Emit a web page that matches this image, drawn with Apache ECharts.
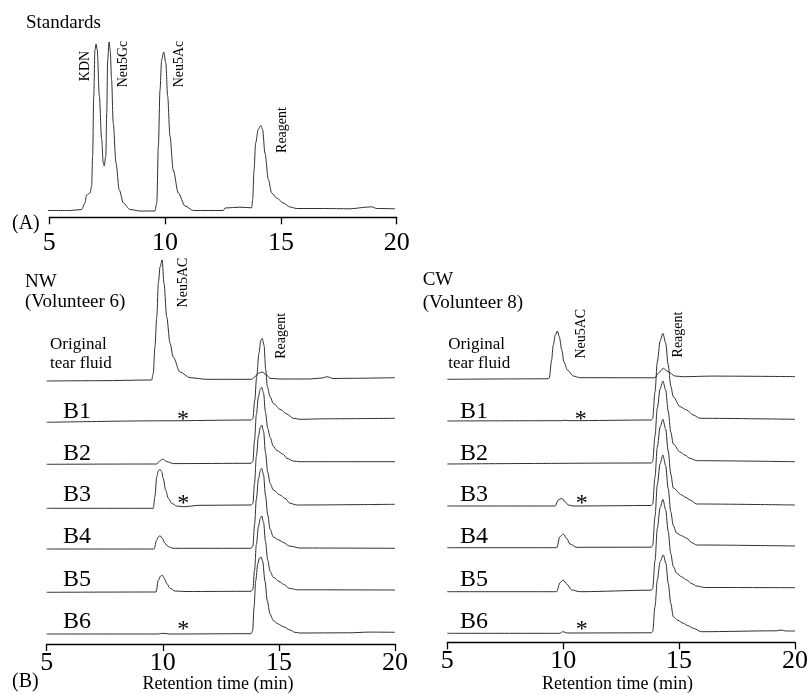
<!DOCTYPE html>
<html><head><meta charset="utf-8">
<script src="https://cdn.jsdelivr.net/npm/echarts@6/dist/echarts.min.js"></script>
<style>html,body{margin:0;padding:0;background:#fff}#c{width:811px;height:695px}</style>
</head><body><div id="c"></div>
<script>
// ---------- data (retention time in min, detector response in arbitrary units) ----------
const xTicks = [5, 10, 15, 20];
const traceNames = ['Original tear fluid', 'B1', 'B2', 'B3', 'B4', 'B5', 'B6'];

const standards = [[4.75,0.5],[5.9,0.5],[6.4,1.5],[6.54,8],[6.61,16],[6.76,18],[6.83,25],[6.87,55],[6.92,115],[6.97,161],[7.02,167],[7.07,161],[7.16,115],[7.26,72],[7.33,48],[7.37,45],[7.44,55],[7.48,98],[7.52,151],[7.58,169],[7.63,161],[7.69,131],[7.76,88],[7.88,48],[8.02,21],[8.2,8],[8.48,1.5],[8.92,0],[9.56,0],[9.64,8],[9.71,65],[9.78,121],[9.85,151],[9.94,159],[10.03,148],[10.11,115],[10.21,75],[10.35,41],[10.57,18],[10.86,5],[11.22,0.5],[12.51,0.5],[12.59,3],[13.23,3.8],[13.74,3.2],[13.78,11.5],[13.84,41],[13.91,68],[14.02,81.5],[14.13,85.5],[14.21,81.5],[14.31,58],[14.46,31.5],[14.6,18],[14.82,13],[15.1,8],[15.39,4],[15.68,2.5],[16.83,2.5],[17.98,2.2],[18.7,3.8],[18.92,4.2],[19.14,2.5],[19.93,2.2]];

const nwOriginal = [[5,0],[7.3,0.3],[9.52,1],[9.59,7.7],[9.66,34],[9.74,64],[9.81,98],[9.88,114],[9.97,121],[10.05,98],[10.17,64],[10.31,38],[10.45,24],[10.74,9],[11.17,3.3],[11.89,1.7],[13.83,1.7],[13.97,4.3],[14.11,7.7],[14.28,9],[14.44,6.5],[14.62,2.7],[15.05,2],[16.34,2],[16.86,3],[17.08,4.3],[17.33,2.5],[18.06,2.7],[20,3.3]];
const nwB1 = [[5,0],[10,1.5],[13.8,2.3],[13.88,4],[13.96,22],[14.04,45],[14.14,69],[14.22,82],[14.28,84],[14.36,77],[14.43,53],[14.5,36],[14.62,25.6],[14.76,19],[15.05,13],[15.34,8.3],[15.62,4],[15.91,3],[17,3.5],[20,4]];
const nwB2 = [[5,0],[9.74,0.3],[9.85,3],[10.0,5.3],[10.17,2.7],[10.45,0.7],[13.8,1],[13.88,3],[13.95,24],[14.03,50],[14.12,68],[14.2,75],[14.26,77],[14.34,71],[14.42,52],[14.52,36],[14.62,27],[14.76,18],[14.9,14],[15.19,10],[15.34,6],[15.62,3.3],[15.9,2.6],[20,2.6]];
const nwB3 = [[5,0],[9.59,0],[9.66,11.6],[9.74,31.6],[9.81,37.6],[9.88,39],[9.95,36.6],[10.02,30],[10.12,18.3],[10.24,10],[10.38,5],[10.6,2.3],[10.88,1.6],[11.6,3],[13.8,3.3],[13.88,5],[13.95,25],[14.03,52],[14.12,72],[14.2,81],[14.26,83.3],[14.34,77],[14.42,56],[14.52,36],[14.62,25],[14.76,18.3],[15.05,13.3],[15.26,10],[15.48,5],[15.77,3.3],[20,4]];
const nwB4 = [[5,0],[9.62,0],[9.74,9],[9.81,12.3],[9.88,13.3],[9.98,10.7],[10.09,5.7],[10.24,2.3],[10.45,0.7],[13.8,0.7],[13.88,3],[13.95,24],[14.03,50],[14.12,70],[14.2,78.5],[14.26,80.7],[14.34,74],[14.42,54],[14.52,34],[14.62,20],[14.76,12],[15.0,9],[15.19,6.5],[15.45,3],[15.91,1],[20,0.7]];
const nwB5 = [[5,0],[9.71,0.3],[9.81,12.3],[9.91,16.3],[9.98,17.3],[10.06,14],[10.17,9],[10.31,4],[10.53,1.3],[11,0.8],[13.8,1],[13.88,3],[13.95,22],[14.03,48],[14.12,66],[14.2,74],[14.26,76.3],[14.34,70],[14.42,51],[14.52,32],[14.62,21],[14.76,15],[15.0,11],[15.2,8],[15.45,4],[15.8,2.5],[20,2.3]];
const nwB6 = [[5,0],[9.8,0],[10.0,0.7],[10.3,0],[13.8,0.3],[13.87,3.3],[13.93,26.7],[14.0,53],[14.09,70],[14.16,76],[14.23,77],[14.3,73],[14.4,53],[14.5,33],[14.62,20],[14.76,13.3],[14.97,10],[15.19,7.3],[15.48,4],[15.69,1.7],[15.91,1],[18,1.2],[18.9,1.9],[20,1.7]];

const cwOriginal = [[5,0],[9.3,0.5],[9.4,1.3],[9.5,19.3],[9.57,34.3],[9.66,44.3],[9.75,48.3],[9.83,42.6],[9.94,29.3],[10.03,17.6],[10.18,9.3],[10.44,3.3],[10.72,1.6],[13.96,1.5],[14.1,6],[14.32,11],[14.53,7.6],[14.82,3.3],[15.18,2.6],[16.4,3.2],[20,2.7]];
const cwB1 = [[5,0],[9.9,0.3],[10.08,0.8],[10.25,0.3],[13.8,1],[13.86,2.5],[13.96,29],[14.06,59],[14.18,80],[14.3,87.7],[14.42,78],[14.53,56],[14.64,35],[14.75,24.3],[15.04,14.3],[15.33,11],[15.61,6],[15.9,2.7],[20,1.7]];
const cwB2 = [[5,0],[13.8,1],[13.86,2.5],[13.96,28],[14.06,56],[14.18,75],[14.3,83],[14.42,74],[14.53,53],[14.64,32],[14.75,20],[15.04,12],[15.25,9],[15.47,5.7],[15.76,3.3],[20,2.3]];
const cwB3 = [[5,0],[9.65,0],[9.79,6],[9.94,7.7],[10.08,4.3],[10.22,1],[10.44,0],[13.8,0.5],[13.86,2],[13.96,29],[14.06,59],[14.18,79],[14.3,86.7],[14.42,77],[14.53,55],[14.64,32],[14.75,18],[15.11,11],[15.3,8.5],[15.47,6],[15.76,2],[20,1]];
const cwB4 = [[5,0],[9.72,0],[9.86,11],[10.0,13.7],[10.15,9.4],[10.29,3.7],[10.58,0.4],[13.8,0.5],[13.86,2.5],[13.96,31],[14.06,63],[14.18,84],[14.3,92.7],[14.42,82],[14.53,59],[14.64,36],[14.75,22],[14.9,14.4],[15.1,12],[15.33,9.4],[15.55,5],[15.76,2.7],[20,1.7]];
const cwB5 = [[5,0],[9.72,0],[9.86,9],[10.0,11.7],[10.15,7.7],[10.37,1.7],[10.72,0],[13.8,1.5],[13.86,3],[13.96,31],[14.06,63],[14.18,84],[14.3,92.4],[14.42,82],[14.53,60],[14.64,38],[14.75,25],[14.9,18.4],[15.1,15],[15.33,11.7],[15.55,8],[15.76,5.7],[16.1,4.2],[20,4]];
const cwB6 = [[5,0],[9.85,0],[10.0,1.7],[10.15,0.3],[13.8,0.5],[13.86,1.6],[13.96,26.6],[14.06,53.3],[14.18,71.6],[14.32,78.3],[14.43,70],[14.53,50],[14.64,30],[14.75,16.6],[14.95,13],[15.18,10],[15.4,7.5],[15.61,5],[15.97,1.6],[19.2,2.5],[19.4,3.3],[19.6,2.3],[20,2.3]];

const nwTraces = [nwOriginal, nwB1, nwB2, nwB3, nwB4, nwB5, nwB6];
const cwTraces = [cwOriginal, cwB1, cwB2, cwB3, cwB4, cwB5, cwB6];

// ---------- layout ----------
const SERIF = '"Liberation Serif", "Times New Roman", serif';
const nwOffsets = [263, 221.7, 179.7, 135.7, 95, 51.7, 10];
const cwOffsets = [263, 221.3, 178.3, 136.3, 94.6, 50.6, 9];
const LINE = '#303030';

const chart = echarts.init(document.getElementById('c'), null, {renderer: 'canvas'});

function xAxisCfg(gridIndex, margin) {
  return {
    type: 'value', gridIndex, min: 5, max: 20, interval: 5,
    axisLine: {show: true, lineStyle: {color: '#000', width: 1.3}},
    axisTick: {show: true, length: 7, lineStyle: {color: '#000', width: 1.3}},
    splitLine: {show: false},
    axisLabel: {show: true, color: '#000', fontFamily: SERIF, fontSize: 26, margin,
      formatter: v => xTicks.includes(v) ? String(v) : ''}
  };
}
function yAxisCfg(gridIndex, max) {
  return {type: 'value', gridIndex, min: 0, max, show: false, splitLine: {show: false}};
}
function lineSeries(data, xi, off) {
  return {
    type: 'line', xAxisIndex: xi, yAxisIndex: xi, clip: false, silent: true,
    showSymbol: false, symbol: 'none', smooth: 0.3, smoothMonotone: 'x', animation: false,
    lineStyle: {color: LINE, width: 1},
    data: data.map(p => [p[0], p[1] + off])
  };
}

const series = [lineSeries(standards, 0, 6.3)];
nwTraces.forEach((d, i) => series.push(lineSeries(d, 1, nwOffsets[i])));
cwTraces.forEach((d, i) => series.push(lineSeries(d, 2, cwOffsets[i])));

function txt(text, x, y, size, opts) {
  opts = opts || {};
  return {
    type: 'text', x, y, rotation: opts.rot || 0, silent: true, z: 10,
    style: {text, font: (opts.weight || 'normal') + ' ' + size + 'px ' + SERIF, fill: '#000',
      align: opts.align || 'left', verticalAlign: opts.va || 'middle'}
  };
}
const R = Math.PI / 2;
const graphics = [
  txt('Standards', 26, 23.5, 19),
  txt('(A)', 12, 224, 20),
  txt('KDN', 85, 66, 14, {rot: R, align: 'center'}),
  txt('Neu5Gc', 123.5, 64, 14, {rot: R, align: 'center'}),
  txt('Neu5Ac', 179.5, 64, 14, {rot: R, align: 'center'}),
  txt('Reagent', 282.5, 130, 14, {rot: R, align: 'center'}),
  // NW
  txt('NW', 25, 281.7, 19),
  txt('(Volunteer 6)', 25, 302.3, 19),
  txt('Original', 50, 344.3, 17),
  txt('tear fluid', 50, 363.3, 17),
  txt('Neu5AC', 183.8, 282.5, 14, {rot: R, align: 'center'}),
  txt('Reagent', 281.7, 335.8, 14, {rot: R, align: 'center'}),
  // CW
  txt('CW', 422.7, 280, 19),
  txt('(Volunteer 8)', 422.7, 303.3, 19),
  txt('Original', 448.3, 344.3, 17),
  txt('tear fluid', 448.3, 363.3, 17),
  txt('Neu5AC', 581.7, 333.7, 14, {rot: R, align: 'center'}),
  txt('Reagent', 678.7, 334.5, 14, {rot: R, align: 'center'}),
  txt('(B)', 12, 682, 20),
  txt('Retention time (min)', 218, 684, 18, {align: 'center'}),
  txt('Retention time (min)', 617.5, 684, 18, {align: 'center'})
];
const bY = [411.7, 453.3, 495, 536.7, 579.3, 621.7];
bY.forEach((y, i) => {
  graphics.push(txt(traceNames[i + 1], 63, y, 24));
  graphics.push(txt(traceNames[i + 1], 460, y, 24));
});
[[182.9, 413.3], [183.3, 497.3], [183.3, 624], [580.7, 413.3], [581.7, 497.3], [581.7, 624]].forEach(p => {
  graphics.push(txt('*', p[0], p[1] + 6, 24, {align: 'center'}));
});

chart.setOption({
  animation: false,
  backgroundColor: '#fff',
  grid: [
    {left: 49.3, top: 30, width: 347.4, height: 187.3},
    {left: 46.7, top: 250, width: 348.3, height: 394},
    {left: 447.3, top: 250, width: 347.7, height: 392.3}
  ],
  xAxis: [xAxisCfg(0, 13), xAxisCfg(1, 6), xAxisCfg(2, 6)],
  yAxis: [yAxisCfg(0, 187.3), yAxisCfg(1, 394), yAxisCfg(2, 392.3)],
  series,
  graphic: graphics
});
</script>
</body></html>
